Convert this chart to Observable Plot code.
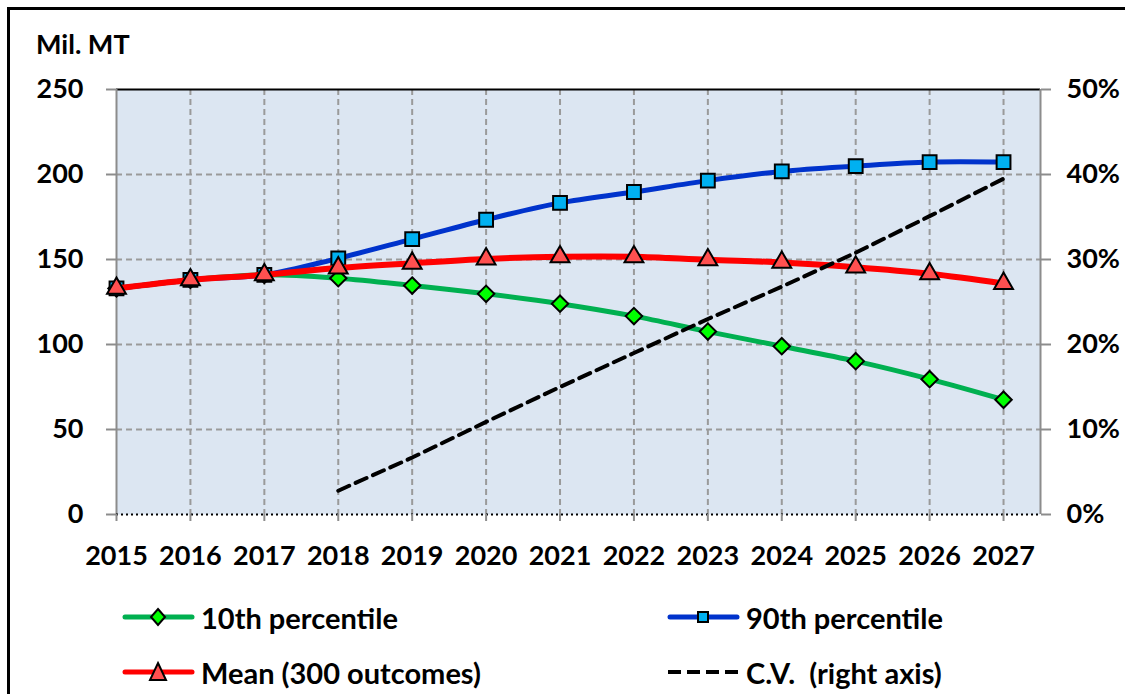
<!DOCTYPE html>
<html><head><meta charset="utf-8">
<script src="https://cdn.jsdelivr.net/npm/d3@7"></script>
<script src="https://cdn.jsdelivr.net/npm/@observablehq/plot@0.6"></script>
<style>
body{margin:0;background:#fff;font-family:Lato,"Open Sans",sans-serif;width:1125px;height:694px;overflow:hidden;position:relative;}
#frame{position:absolute;left:7px;top:7px;width:1130px;height:700px;border-left:3px solid #000;border-top:3px solid #000;}
#unit{position:absolute;left:36px;top:27px;font-weight:700;font-size:27px;color:#000;}
#chart{position:absolute;left:0;top:0;}
.leg{position:absolute;display:flex;align-items:center;font-weight:700;font-size:29px;color:#000;height:30px;white-space:pre;}
.leg svg{margin-right:5px;}
</style></head>
<body>
<div id="frame"></div>
<div id="chart"></div>
<div id="unit">Mil. MT</div>
<div id="legend"></div>
<script>
const years = [2015,2016,2017,2018,2019,2020,2021,2022,2023,2024,2025,2026,2027];
const p10  = [133,138,141,139,134.7,129.8,124,116.7,107.6,99,90.2,79.6,67.5];
const p90  = [133,138,141,150.7,162,173.4,183.3,189.7,196.4,201.8,204.9,207.3,207.3];
const mean = [133,138,141,145,147.8,150.3,151.6,151.6,149.8,148.3,145.5,141.6,135.9];
const cvYears = [2018,2019,2020,2021,2022,2023,2024,2025,2026,2027];
const cv = [2.8,6.7,10.9,15.0,19.0,23.0,26.8,30.8,35.1,39.5]; // percent, right axis
const leftTicks = [0,50,100,150,200,250];
const rightTickLabels = ["0%","10%","20%","30%","40%","50%"];
const seriesNames = ["10th percentile","90th percentile","Mean (300 outcomes)","C.V.  (right axis)"];

const rows = (vals) => years.map((y,i)=>({year:y, v:vals[i]}));
const cvRows = cvYears.map((y,i)=>({year:y, v:cv[i]*250/50}));

const grid = {stroke:"#9a9a9a", strokeOpacity:1, strokeWidth:2, strokeDasharray:"6,4"};

const chart = Plot.plot({
  width:1125, height:580,
  marginTop:89, marginBottom:66, marginLeft:116, marginRight:85,
  style:{fontFamily:"Lato, 'Open Sans', sans-serif", fontSize:"27px", fontWeight:700, color:"#000", background:"transparent", overflow:"visible"},
  x:{domain:[2015,2027.5]},
  y:{domain:[0,250]},
  marks:[
    Plot.frame({fill:"#DCE6F2", stroke:null}),
    Plot.gridX(years.slice(1), grid),
    Plot.gridY([50,100,150,200], grid),
    Plot.ruleY([250], {stroke:"#000", strokeWidth:2}),
    Plot.ruleX([2015], {stroke:"#8c8c8c", strokeWidth:2}),
    Plot.ruleX([2027.5], {stroke:"#8c8c8c", strokeWidth:2}),
    Plot.ruleY([0], {stroke:"#000", strokeWidth:2, strokeDasharray:"2,3"}),
    Plot.axisX({ticks:years, tickFormat:d=>String(d), tickSize:7, tickPadding:24, stroke:"#8c8c8c", strokeWidth:2, fill:"#000", label:null}),
    Plot.axisY({ticks:leftTicks, anchor:"left", tickSize:10, tickPadding:23, stroke:"#8c8c8c", strokeWidth:2, fill:"#000", label:null}),
    Plot.axisY({ticks:leftTicks, anchor:"right", tickSize:10, tickPadding:16, tickFormat:d=>rightTickLabels[leftTicks.indexOf(d)], stroke:"#8c8c8c", strokeWidth:2, fill:"#000", label:null}),
    Plot.line(rows(p10), {x:"year", y:"v", stroke:"#00B050", strokeWidth:5, curve:"catmull-rom"}),
    Plot.dot(rows(p10), {x:"year", y:"v", symbol:"diamond2", r:7.4, fill:"#00FF00", stroke:"#000", strokeWidth:2}),
    Plot.line(rows(p90), {x:"year", y:"v", stroke:"#0033CC", strokeWidth:5, curve:"catmull-rom"}),
    Plot.dot(rows(p90), {x:"year", y:"v", symbol:"square", r:7.8, fill:"#00B0F0", stroke:"#000", strokeWidth:2}),
    Plot.line(rows(mean), {x:"year", y:"v", stroke:"#FF0000", strokeWidth:6, curve:"catmull-rom"}),
    Plot.dot(rows(mean), {x:"year", y:"v", symbol:"triangle", r:7, fill:"#FF5050", stroke:"#000", strokeWidth:2}),
    Plot.line(cvRows, {x:"year", y:"v", stroke:"#000", strokeWidth:4, strokeDasharray:"12,7"})
  ]
});
document.getElementById("chart").appendChild(chart);

// legend
const legendPos = [[122,602],[667,602],[122,657],[667,657]];
const legendStyle = [
  {stroke:"#00B050", marker:"diamond", fill:"#00FF00"},
  {stroke:"#0033CC", marker:"square", fill:"#00B0F0"},
  {stroke:"#FF0000", marker:"triangle", fill:"#FF5050"},
  {stroke:"#000", marker:null, dash:true}
];
const leg = document.getElementById("legend");
seriesNames.forEach((name,i)=>{
  const s = legendStyle[i];
  const d = document.createElement("div");
  d.className="leg";
  d.style.left = legendPos[i][0]+"px";
  d.style.top = legendPos[i][1]+"px";
  let m = "";
  if (s.marker==="diamond") m = `<path d="M36,7 L43,15 L36,23 L29,15 Z" fill="${s.fill}" stroke="#000" stroke-width="2"/>`;
  if (s.marker==="square") m = `<rect x="31" y="10" width="10" height="10" fill="${s.fill}" stroke="#000" stroke-width="2"/>`;
  if (s.marker==="triangle") m = `<path d="M36,6 L44,23 L28,23 Z" fill="${s.fill}" stroke="#000" stroke-width="2"/>`;
  const line = s.dash
    ? `<line x1="1" y1="15" x2="72" y2="15" stroke="#000" stroke-width="4" stroke-dasharray="13,6"/>`
    : `<line x1="3" y1="15" x2="70" y2="15" stroke="${s.stroke}" stroke-width="5" stroke-linecap="round"/>`;
  d.innerHTML = `<svg width="74" height="30">${line}${m}</svg><span>${name}</span>`;
  leg.appendChild(d);
});
</script>
</body></html>
